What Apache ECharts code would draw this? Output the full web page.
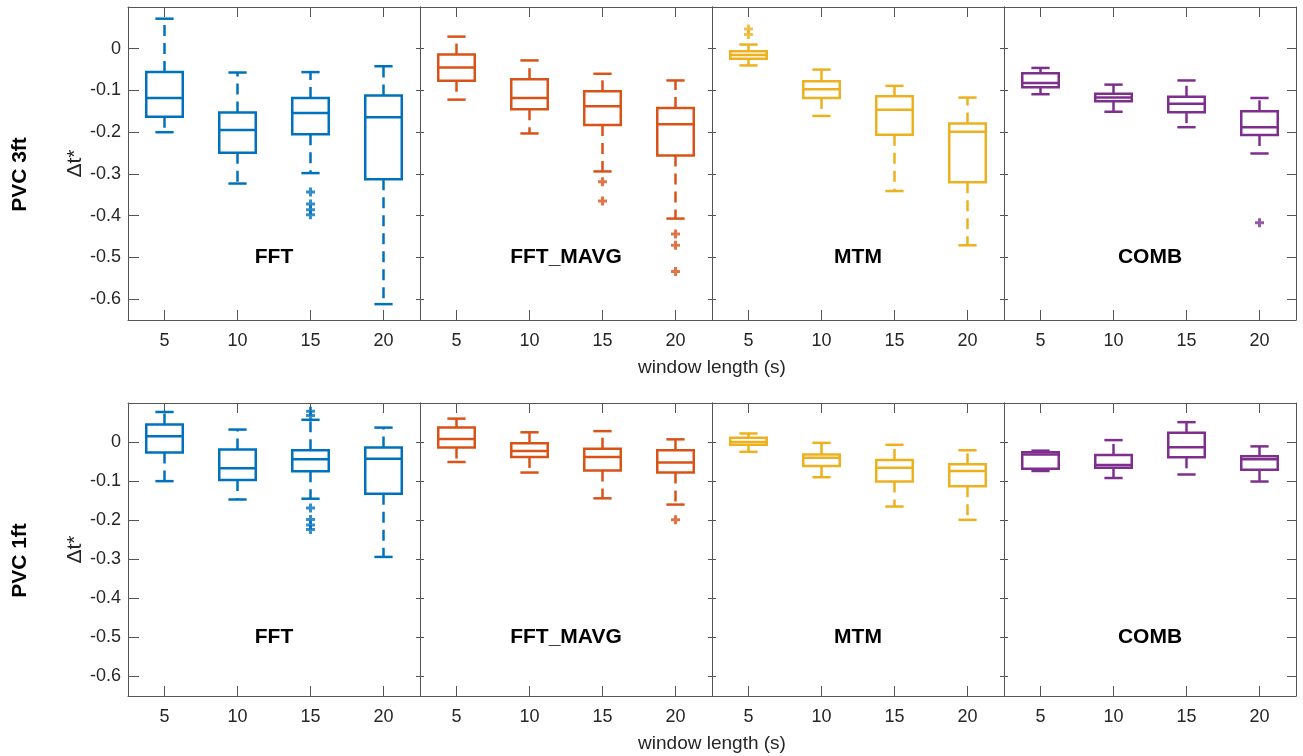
<!DOCTYPE html>
<html><head><meta charset="utf-8">
<script src="https://cdn.jsdelivr.net/npm/echarts@6/dist/echarts.min.js"></script>
<style>html,body{margin:0;padding:0;background:#fff}#c{width:1303px;height:756px}</style>
</head><body><div id="c"></div>
<script>
// ---------------- data ----------------
const windowLengths = ['5', '10', '15', '20'];
const methods = ['FFT', 'FFT_MAVG', 'MTM', 'COMB'];
const rowLabels = ['PVC 3ft', 'PVC 1ft'];
const yTicks = [-0.6, -0.5, -0.4, -0.3, -0.2, -0.1, 0];
const xTitle = 'window length (s)';
const yTitle = 'Δt*';
const colors = ['#0072BD', '#D95319', '#EDB120', '#7E2F8E'];

// each box: [lower whisker, Q1, median, Q3, upper whisker], for 5,10,15,20 s
const fft3ft = [
  [-0.200, -0.163, -0.118, -0.056, 0.072],
  [-0.323, -0.249, -0.195, -0.153, -0.057],
  [-0.298, -0.205, -0.154, -0.118, -0.056],
  [-0.612, -0.313, -0.164, -0.112, -0.042]
];
const fft3ftOut = [[2, -0.343], [2, -0.372], [2, -0.386], [2, -0.398]];

const mavg3ft = [
  [-0.122, -0.077, -0.045, -0.014, 0.029],
  [-0.203, -0.145, -0.118, -0.073, -0.028],
  [-0.294, -0.183, -0.138, -0.102, -0.060],
  [-0.407, -0.256, -0.181, -0.142, -0.076]
];
const mavg3ftOut = [[2, -0.319], [2, -0.365], [3, -0.444], [3, -0.471], [3, -0.534]];

const mtm3ft = [
  [-0.040, -0.024, -0.015, -0.006, 0.010],
  [-0.161, -0.118, -0.097, -0.078, -0.050],
  [-0.341, -0.206, -0.146, -0.114, -0.089],
  [-0.471, -0.320, -0.199, -0.179, -0.117]
];
const mtm3ftOut = [[0, 0.047], [0, 0.034]];

const comb3ft = [
  [-0.109, -0.092, -0.082, -0.059, -0.046],
  [-0.151, -0.126, -0.117, -0.108, -0.086],
  [-0.188, -0.152, -0.132, -0.115, -0.076],
  [-0.251, -0.207, -0.188, -0.150, -0.118]
];
const comb3ftOut = [[3, -0.417]];

const fft1ft = [
  [-0.100, -0.027, 0.015, 0.045, 0.077],
  [-0.147, -0.097, -0.067, -0.019, 0.032],
  [-0.145, -0.075, -0.044, -0.021, 0.057],
  [-0.294, -0.132, -0.043, -0.014, 0.037]
];
const fft1ftOut = [[2, 0.079], [2, 0.068], [2, -0.169], [2, -0.198], [2, -0.212], [2, -0.224]];

const mavg1ft = [
  [-0.051, -0.014, 0.008, 0.037, 0.060],
  [-0.078, -0.038, -0.023, -0.003, 0.025],
  [-0.144, -0.073, -0.038, -0.017, 0.028],
  [-0.160, -0.078, -0.052, -0.021, 0.007]
];
const mavg1ftOut = [[3, -0.199]];

const mtm1ft = [
  [-0.025, -0.007, 0.000, 0.011, 0.022],
  [-0.090, -0.061, -0.040, -0.032, -0.002],
  [-0.165, -0.101, -0.066, -0.046, -0.007],
  [-0.199, -0.113, -0.074, -0.057, -0.021]
];
const mtm1ftOut = [];

const comb1ft = [
  [-0.074, -0.068, -0.032, -0.026, -0.022],
  [-0.092, -0.066, -0.059, -0.033, 0.005],
  [-0.083, -0.039, -0.013, 0.024, 0.051],
  [-0.101, -0.071, -0.044, -0.036, -0.011]
];
const comb1ftOut = [];

const rowsBoxes = [[fft3ft, mavg3ft, mtm3ft, comb3ft], [fft1ft, mavg1ft, mtm1ft, comb1ft]];
const rowsOut = [[fft3ftOut, mavg3ftOut, mtm3ftOut, comb3ftOut], [fft1ftOut, mavg1ftOut, mtm1ftOut, comb1ftOut]];

// ---------------- layout ----------------
const FONT = '"Liberation Sans", Arial, Helvetica, sans-serif';
const TXT = '#262626';
const AX = '#555555';
const gridLefts = [128, 420, 712, 1004];
const gridW = 292;
const rowTops = [7, 403];
const rowHeights = [313, 293];
const yMin = -0.65, yMax = 0.1;

function boxRenderer(color) {
  return function (params, api) {
    const xi = api.value(0);
    const lo = api.coord([xi, api.value(1)]);
    const q1 = api.coord([xi, api.value(2)]);
    const md = api.coord([xi, api.value(3)]);
    const q3 = api.coord([xi, api.value(4)]);
    const hi = api.coord([xi, api.value(5)]);
    const band = api.size([1, 0])[0];
    const bw = band * 0.5, cw = band * 0.25;
    const cx = md[0];
    const lw = 2.5;
    const solid = { stroke: color, lineWidth: lw, fill: null };
    const dashed = { stroke: color, lineWidth: lw, lineDash: [11, 7], fill: null };
    return {
      type: 'group',
      children: [
        { type: 'line', shape: { x1: cx, y1: q3[1], x2: cx, y2: hi[1] }, style: dashed },
        { type: 'line', shape: { x1: cx, y1: q1[1], x2: cx, y2: lo[1] }, style: dashed },
        { type: 'line', shape: { x1: cx - cw / 2, y1: hi[1], x2: cx + cw / 2, y2: hi[1] }, style: solid },
        { type: 'line', shape: { x1: cx - cw / 2, y1: lo[1], x2: cx + cw / 2, y2: lo[1] }, style: solid },
        { type: 'rect', shape: { x: cx - bw / 2, y: q3[1], width: bw, height: q1[1] - q3[1] }, style: { stroke: color, lineWidth: lw, fill: '#fff' } },
        { type: 'line', shape: { x1: cx - bw / 2, y1: md[1], x2: cx + bw / 2, y2: md[1] }, style: solid }
      ]
    };
  };
}

const grids = [], xAxes = [], yAxes = [], series = [];
let g = 0;
for (let r = 0; r < 2; r++) {
  for (let p = 0; p < 4; p++) {
    grids.push({ left: gridLefts[p], top: rowTops[r], width: gridW, height: rowHeights[r] });
    const xBase = {
      type: 'category', data: windowLengths, gridIndex: g, boundaryGap: true,
      axisLine: { show: true, onZero: false, lineStyle: { color: AX, width: 1 } },
      axisTick: { show: true, inside: true, alignWithLabel: true, length: 10, lineStyle: { color: AX } },
      splitLine: { show: false }
    };
    xAxes.push(Object.assign({}, xBase, {
      position: 'bottom',
      axisLabel: { show: true, margin: 12, color: TXT, fontSize: 18, fontFamily: FONT }
    }));
    xAxes.push(Object.assign({}, xBase, { position: 'top', axisLabel: { show: false } }));
    const yBase = {
      type: 'value', min: yMin, max: yMax, gridIndex: g,
      axisLine: { show: true, onZero: false, lineStyle: { color: AX, width: 1 } },
      splitLine: { show: false }
    };
    const left = Object.assign({}, yBase, {
      position: 'left',
      axisTick: { show: true, inside: true, length: p === 0 ? 11 : 4, customValues: yTicks, lineStyle: { color: AX } },
      axisLabel: { show: p === 0, customValues: yTicks, margin: 7, color: TXT, fontSize: 18, fontFamily: FONT,
        formatter: v => (Math.abs(v) < 1e-9 ? '0' : String(+v.toFixed(1))) }
    });
    if (p === 0) {
      Object.assign(left, {
        name: yTitle, nameLocation: 'middle', nameGap: 34, nameRotate: 90,
        nameTextStyle: { color: TXT, fontSize: 21, fontFamily: FONT }
      });
    }
    yAxes.push(left);
    yAxes.push(Object.assign({}, yBase, {
      position: 'right',
      axisTick: { show: true, inside: true, length: p === 3 ? 9 : 4, customValues: yTicks, lineStyle: { color: AX } },
      axisLabel: { show: false }
    }));
    const boxes = rowsBoxes[r][p];
    series.push({
      type: 'custom', xAxisIndex: 2 * g, yAxisIndex: 2 * g,
      renderItem: boxRenderer(colors[p]),
      encode: { x: 0, y: [1, 2, 3, 4, 5] },
      data: boxes.map((b, i) => [i].concat(b)),
      z: 3
    });
    series.push({
      type: 'scatter', xAxisIndex: 2 * g, yAxisIndex: 2 * g,
      symbol: 'path://M-1,-3H1V-1H3V1H1V3H-1V1H-3V-1H-1Z', symbolSize: 9,
      itemStyle: { color: colors[p] },
      data: rowsOut[r][p],
      z: 4
    });
    g++;
  }
}

const chart = echarts.init(document.getElementById('c'), null, { renderer: 'canvas' });
chart.setOption({
  animation: false,
  backgroundColor: '#fff',
  grid: grids, xAxis: xAxes, yAxis: yAxes, series: series
});

// text decorations
const graphics = [];
for (let r = 0; r < 2; r++) {
  const yLab = chart.convertToPixel({ yAxisIndex: r * 8 }, -0.5);
  for (let p = 0; p < 4; p++) {
    graphics.push({
      type: 'text', x: gridLefts[p] + gridW / 2, y: yLab,
      style: { text: methods[p], fill: '#000', font: 'bold 21px ' + FONT, textAlign: 'center', textVerticalAlign: 'middle' }
    });
  }
  const midY = rowTops[r] + rowHeights[r] / 2 + 11;
  graphics.push({
    type: 'text', x: 20, y: midY, rotation: Math.PI / 2,
    style: { text: rowLabels[r], fill: '#000', font: 'bold 21px ' + FONT, textAlign: 'center', textVerticalAlign: 'middle' }
  });
  graphics.push({
    type: 'text', x: gridLefts[0] + gridW * 2, y: rowTops[r] + rowHeights[r] + 48,
    style: { text: xTitle, fill: TXT, font: '19px ' + FONT, textAlign: 'center', textVerticalAlign: 'middle' }
  });
}
chart.setOption({ graphic: graphics });
</script></body></html>
